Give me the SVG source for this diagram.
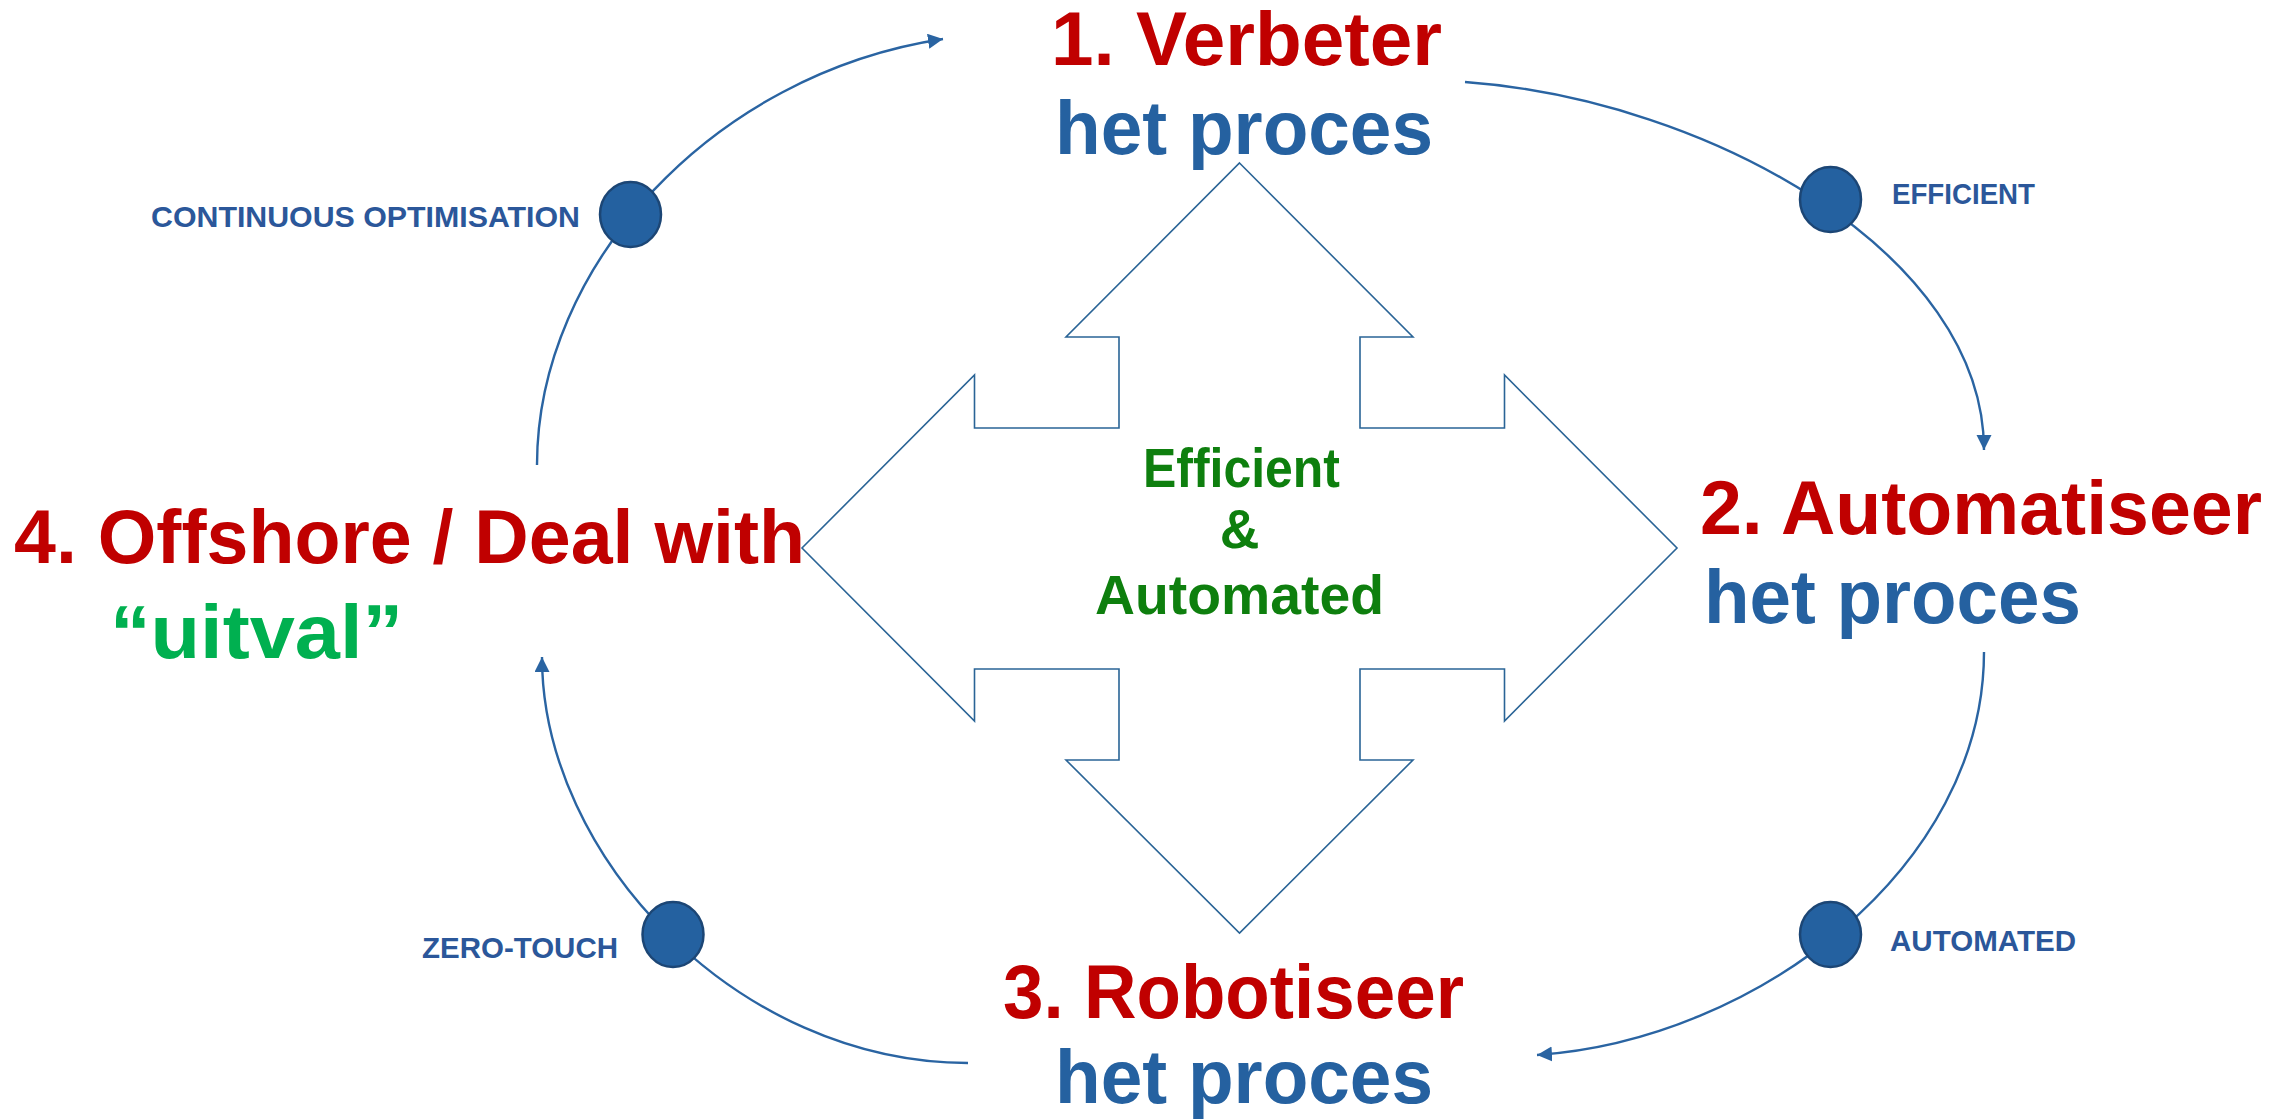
<svg xmlns="http://www.w3.org/2000/svg" width="2282" height="1120" viewBox="0 0 2282 1120">
<style>
  .big { font-family: "Liberation Sans", "DejaVu Sans", sans-serif; font-weight: bold; font-size: 76px; }
  .red { fill: #c00000; }
  .blue { fill: #2561a0; }
  .mid { font-family: "Liberation Sans", "DejaVu Sans", sans-serif; font-weight: bold; font-size: 55px; fill: #0e7f0e; }
  .lbl { font-family: "Liberation Sans", "DejaVu Sans", sans-serif; font-weight: bold; font-size: 30px; fill: #2b579a; }
  .arc { fill: none; stroke: #2a64a2; stroke-width: 2.4; }
  .dot { fill: #2461a0; stroke: #1c4675; stroke-width: 2.5; }
  .quad { fill: #ffffff; stroke: #2a6496; stroke-width: 1.6; stroke-linejoin: miter; }
</style>
<defs>
  <marker id="ah" markerUnits="userSpaceOnUse" markerWidth="16" markerHeight="16" refX="15" refY="7.5" orient="auto">
    <path d="M0,0 L15,7.5 L0,15 z" fill="#2a64a2"/>
  </marker>
</defs>

<g id="center">
  <polygon class="quad" points="1239.5,163 1413,337 1360,337 1360,428 1504.5,428 1504.5,375 1677,548 1504.5,721 1504.5,669 1360,669 1360,760 1413,760 1239.5,933 1066,760 1119,760 1119,669 974.5,669 974.5,721 802,548 974.5,375 974.5,428 1119,428 1119,337 1066,337"/>
  <text class="mid" x="1143" y="487" textLength="197" lengthAdjust="spacingAndGlyphs">Efficient</text>
  <text class="mid" x="1239.5" y="548" text-anchor="middle">&amp;</text>
  <text class="mid" x="1095" y="614" textLength="289" lengthAdjust="spacingAndGlyphs">Automated</text>
</g>

<g id="connectors">
  <path class="arc" d="M537,465 C537,265 713,74 943,39" marker-end="url(#ah)"/>
  <path class="arc" d="M1465,82 C1710,100 1984,254 1984,450" marker-end="url(#ah)"/>
  <path class="arc" d="M1984,652 C1984,867 1757,1040 1537,1055" marker-end="url(#ah)"/>
  <path class="arc" d="M968,1063 C738,1063 542,857 542,657" marker-end="url(#ah)"/>
</g>

<g id="step1">
  <text class="big red" x="1051" y="65" textLength="391" lengthAdjust="spacingAndGlyphs">1. Verbeter</text>
  <text class="big blue" x="1055" y="154" textLength="378" lengthAdjust="spacingAndGlyphs">het proces</text>
</g>
<g id="step2">
  <text class="big red" x="1700" y="534" textLength="562" lengthAdjust="spacingAndGlyphs">2. Automatiseer</text>
  <text class="big blue" x="1704" y="623" textLength="377" lengthAdjust="spacingAndGlyphs">het proces</text>
</g>
<g id="step3">
  <text class="big red" x="1003" y="1018" textLength="461" lengthAdjust="spacingAndGlyphs">3. Robotiseer</text>
  <text class="big blue" x="1055" y="1103" textLength="378" lengthAdjust="spacingAndGlyphs">het proces</text>
</g>
<g id="step4">
  <text class="big red" x="14" y="563" textLength="791" lengthAdjust="spacingAndGlyphs">4. Offshore / Deal with</text>
  <text class="big" x="110" y="658" fill="#00b050" textLength="293" lengthAdjust="spacingAndGlyphs">“uitval”</text>
</g>

<g id="m-continuous">
  <ellipse class="dot" cx="630.5" cy="214.5" rx="30.5" ry="32.5"/>
  <text class="lbl" x="151" y="227" textLength="429" lengthAdjust="spacingAndGlyphs">CONTINUOUS OPTIMISATION</text>
</g>
<g id="m-efficient">
  <ellipse class="dot" cx="1830.5" cy="199.5" rx="30.5" ry="32.5"/>
  <text class="lbl" x="1892" y="204" textLength="143" lengthAdjust="spacingAndGlyphs">EFFICIENT</text>
</g>
<g id="m-automated">
  <ellipse class="dot" cx="1830.5" cy="934.5" rx="30.5" ry="32.5"/>
  <text class="lbl" x="1890" y="951" textLength="186" lengthAdjust="spacingAndGlyphs">AUTOMATED</text>
</g>
<g id="m-zerotouch">
  <ellipse class="dot" cx="673" cy="934.5" rx="30.5" ry="32.5"/>
  <text class="lbl" x="422" y="958" textLength="196" lengthAdjust="spacingAndGlyphs">ZERO-TOUCH</text>
</g>
</svg>
